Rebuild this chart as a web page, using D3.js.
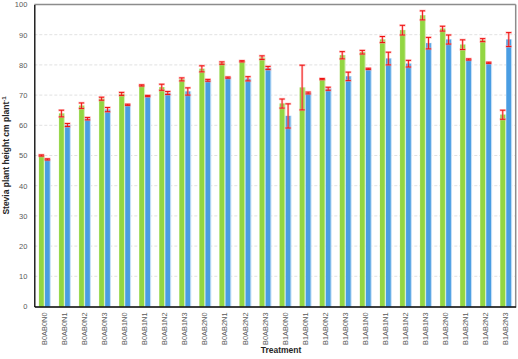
<!DOCTYPE html>
<html><head><meta charset="utf-8">
<script src="https://cdn.jsdelivr.net/npm/d3@7"></script>
<style>body{margin:0;background:#fff}svg{display:block}</style>
</head><body>
<svg id="c" width="518" height="359"></svg>
<script>
const categories = ["B0AB0N0","B0AB0N1","B0AB0N2","B0AB0N3","B0AB1N0","B0AB1N1","B0AB1N2","B0AB1N3","B0AB2N0","B0AB2N1","B0AB2N2","B0AB2N3","B1AB0N0","B1AB0N1","B1AB0N2","B1AB0N3","B1AB1N0","B1AB1N1","B1AB1N2","B1AB1N3","B1AB2N0","B1AB2N1","B1AB2N2","B1AB2N3"];
const greenValues = [50.0,63.9,66.5,68.8,70.4,73.2,72.6,75.2,78.7,80.6,81.2,82.4,67.2,72.5,75.3,83.2,84.2,88.4,91.5,96.4,92.0,86.7,88.2,63.5];
const greenErrors = [0.2,1.1,0.9,0.5,0.5,0.2,1.0,0.5,1.0,0.4,0.2,0.6,1.5,7.4,0.2,1.2,0.6,1.0,1.6,1.5,0.8,1.6,0.5,1.5];
const blueValues = [48.7,60.1,62.2,65.2,66.8,69.7,70.7,71.2,74.9,75.8,75.4,79.0,63.1,70.7,72.1,76.2,78.7,82.1,80.4,87.2,88.4,81.8,80.7,88.4];
const blueErrors = [0.2,0.5,0.4,0.7,0.2,0.2,0.5,1.2,0.3,0.2,0.7,0.5,4.0,0.3,0.5,1.4,0.2,2.1,1.1,1.9,1.5,0.2,0.2,2.3];
const yTicks = [0,10,20,30,40,50,60,70,80,90,100];

const svg = d3.select("#c");
const L = 34.3, R = 515.7, T = 4.5, B = 306.5;
const x = d3.scaleBand().domain(categories).range([L, R]).padding(0);
const y = d3.scaleLinear().domain([0, 100]).range([B, T]);

// grid
svg.append("g").selectAll("line").data(yTicks.filter(d => d > 0 && d < 100)).join("line")
  .attr("x1", L).attr("x2", R).attr("y1", d => y(d)).attr("y2", d => y(d))
  .attr("stroke", "#d9d9d9").attr("stroke-width", 0.8).attr("stroke-dasharray", "3,2");

const bw = 4.7;
const green = "#92d642", blue = "#4a9de2";
function drawSeries(vals, errs, offset, color, halo) {
  const g = svg.append("g");
  categories.forEach((c, i) => {
    const cx = x(c) + x.bandwidth() / 2;
    const x0 = cx + offset;
    g.append("rect").attr("x", x0 - 0.3).attr("y", y(vals[i]) - 0.3).attr("width", bw + 1.4)
      .attr("height", B - y(vals[i]) + 0.3).attr("fill", halo);
    g.append("rect").attr("x", x0).attr("y", y(vals[i])).attr("width", bw)
      .attr("height", B - y(vals[i])).attr("fill", color);
    const ex = x0 + bw / 2;
    const y1 = y(vals[i] + errs[i]), y2 = y(vals[i] - errs[i]);
    const eg = g.append("g");
    eg.append("line").attr("x1", ex).attr("x2", ex).attr("y1", y1).attr("y2", y2)
      .attr("stroke", "#ff9a9a").attr("stroke-width", 2.4).attr("opacity", 0.6);
    [y1, y2].forEach(yy => {
      eg.append("line").attr("x1", ex - 3.2).attr("x2", ex + 3.2).attr("y1", yy).attr("y2", yy)
        .attr("stroke", "#ff9a9a").attr("stroke-width", 2.4).attr("opacity", 0.6);
    });
    eg.append("line").attr("x1", ex).attr("x2", ex).attr("y1", y1).attr("y2", y2)
      .attr("stroke", "#ee1111").attr("stroke-width", 0.9);
    [y1, y2].forEach(yy => {
      eg.append("line").attr("x1", ex - 2.6).attr("x2", ex + 2.6).attr("y1", yy).attr("y2", yy)
        .attr("stroke", "#ee1111").attr("stroke-width", 1);
    });
  });
}
drawSeries(greenValues, greenErrors, -5.3, green, "#d8f0bc");
drawSeries(blueValues, blueErrors, 0.7, blue, "#c5e0f7");

// frame top/right
svg.append("line").attr("x1", L).attr("x2", R).attr("y1", T).attr("y2", T).attr("stroke", "#8c8c8c").attr("stroke-width", 1.5);
svg.append("line").attr("x1", R).attr("x2", R).attr("y1", T).attr("y2", B).attr("stroke", "#8c8c8c").attr("stroke-width", 1.5);

// axes
const yAxis = svg.append("g").attr("transform", `translate(${L},0)`)
  .call(d3.axisLeft(y).tickValues(yTicks).tickSize(0).tickPadding(7));
yAxis.select(".domain").attr("stroke", "#000").attr("stroke-width", 1.3);
yAxis.selectAll("text").attr("font-family", "Liberation Sans, Arial, sans-serif").attr("font-size", 7.5).attr("fill", "#595959");

const xAxis = svg.append("g").attr("transform", `translate(0,${B})`)
  .call(d3.axisBottom(x).tickSize(0).tickPadding(5));
xAxis.select(".domain").attr("stroke", "#000").attr("stroke-width", 1.3);
xAxis.selectAll("text").attr("font-family", "Liberation Sans, Arial, sans-serif").attr("font-size", 7.4).attr("fill", "#595959")
  .attr("text-anchor", "end").attr("dy", "0.35em")
  .attr("transform", "rotate(-90)").attr("x", -6).attr("y", 0);

svg.append("text").attr("x", (L + R) / 2 + 6).attr("y", 353).attr("text-anchor", "middle")
  .attr("font-family", "Liberation Sans, Arial, sans-serif").attr("font-weight", "bold").attr("font-size", 8.5).attr("fill", "#262626")
  .text("Treatment");

const yl = svg.append("text").attr("transform", `translate(9,${(T + B) / 2}) rotate(-90)`).attr("text-anchor", "middle")
  .attr("font-family", "Liberation Sans, Arial, sans-serif").attr("font-weight", "bold").attr("font-size", 8.5).attr("fill", "#262626");
yl.append("tspan").text("Stevia plant height cm plant");
yl.append("tspan").attr("dy", -3).attr("font-size", 6).text("-1");
</script>
</body></html>
